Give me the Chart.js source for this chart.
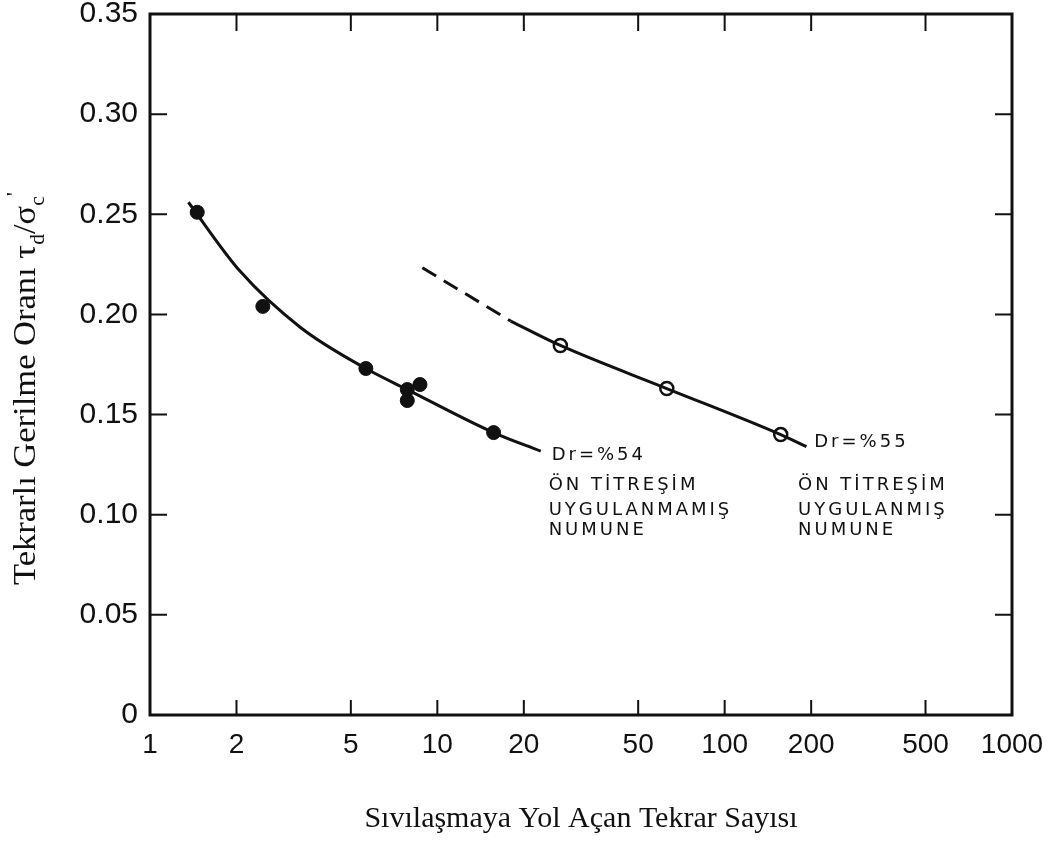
<!DOCTYPE html>
<html>
<head>
<meta charset="utf-8">
<script src="https://cdn.jsdelivr.net/npm/chart.js@4.4.1/dist/chart.umd.min.js"></script>
<style>
  html, body { margin: 0; padding: 0; background: #fff; }
  #wrap { width: 1062px; height: 843px; }
</style>
</head>
<body>
<div id="wrap"><canvas id="chart" width="1062" height="843"></canvas></div>
<script>
// axis ticks
const xTicks = [1, 2, 5, 10, 20, 50, 100, 200, 500, 1000];
const yTicks = [0, 0.05, 0.10, 0.15, 0.20, 0.25, 0.30, 0.35];

// measured points, no pre-vibration (filled)
const solidN = [1.46, 2.47, 5.64, 7.86, 8.70, 7.86, 15.7];
const solidRatio = [0.251, 0.204, 0.173, 0.1625, 0.165, 0.157, 0.141];

// measured points, with pre-vibration (open)
const hollowN = [26.8, 62.9, 156.7];
const hollowRatio = [0.1845, 0.163, 0.140];

// fitted curves
const curveNoPreN = [1.36, 2.06, 3.34, 5.64, 7.86, 15.7, 22.9];
const curveNoPreRatio = [0.256, 0.2215, 0.1935, 0.173, 0.1625, 0.141, 0.1317];
const curvePreDashN = [8.87, 18.0];
const curvePreDashRatio = [0.2233, 0.1967];
const curvePreN = [18.0, 26.8, 62.9, 156.7, 192.6];
const curvePreRatio = [0.1967, 0.1845, 0.163, 0.140, 0.134];

// texts
const xTitle = 'Sıvılaşmaya Yol Açan Tekrar Sayısı';
const noteLeft = ['Dr=%54', 'ÖN TİTREŞİM', 'UYGULANMAMIŞ', 'NUMUNE'];
const noteRight = ['Dr=%55', 'ÖN TİTREŞİM', 'UYGULANMIŞ', 'NUMUNE'];

const toPts = (xs, ys) => xs.map((x, i) => ({ x: x, y: ys[i] }));

const ink = '#111';

// frame, inward ticks, y title with sub/superscripts, notes
const decorPlugin = {
  id: 'decor',
  afterDatasetsDraw(chart) {
    const ctx = chart.ctx;
    const { left, right, top, bottom } = chart.chartArea;
    const xs = chart.scales.x, ys = chart.scales.y;
    ctx.save();
    ctx.strokeStyle = ink;
    ctx.lineWidth = 3;
    ctx.strokeRect(left, top, right - left, bottom - top);

    ctx.lineWidth = 2;
    ctx.beginPath();
    xTicks.slice(1, -1).forEach(v => {
      const px = xs.getPixelForValue(v);
      ctx.moveTo(px, bottom); ctx.lineTo(px, bottom - 15);
      ctx.moveTo(px, top); ctx.lineTo(px, top + 17);
    });
    yTicks.slice(1, -1).forEach(v => {
      const py = ys.getPixelForValue(v);
      ctx.moveTo(left, py); ctx.lineTo(left + 17, py);
      ctx.moveTo(right, py); ctx.lineTo(right - 17, py);
    });
    ctx.stroke();

    // y axis title
    const parts = [
      { t: 'Tekrarlı Gerilme Oranı ', size: 32, dy: 0 },
      { t: 'τ', size: 32, dy: 0 },
      { t: 'd', size: 20, dy: 9 },
      { t: '/', size: 32, dy: 0 },
      { t: 'σ', size: 32, dy: 0 },
      { t: 'c', size: 20, dy: 9 },
      { t: '\'', size: 22, dy: -14 }
    ];
    let total = 0;
    parts.forEach(p => {
      ctx.font = p.size + 'px "Liberation Serif", "Times New Roman", serif';
      p.w = ctx.measureText(p.t).width;
      total += p.w;
    });
    ctx.translate(35, 585);
    ctx.rotate(-Math.PI / 2);
    ctx.scale(393 / total, 1);
    ctx.fillStyle = ink;
    ctx.textBaseline = 'alphabetic';
    let cx = 0;
    parts.forEach(p => {
      ctx.font = p.size + 'px "Liberation Serif", "Times New Roman", serif';
      ctx.fillText(p.t, cx, p.dy);
      cx += p.w;
    });
    ctx.restore();

    // curve notes
    ctx.save();
    ctx.fillStyle = ink;
    ctx.font = '18px "DejaVu Sans", sans-serif';
    ctx.textBaseline = 'middle';
    ctx.letterSpacing = '3px';
    const drawNote = (lines, xFirst, xRest, yVals) => {
      lines.forEach((s, i) => {
        const px = xs.getPixelForValue(i === 0 ? xFirst : xRest);
        const py = ys.getPixelForValue(yVals[i]);
        ctx.fillText(s, px, py);
      });
    };
    drawNote(noteLeft, 25.0, 24.4, [0.1295, 0.1145, 0.102, 0.092]);
    drawNote(noteRight, 205, 180, [0.136, 0.1145, 0.102, 0.092]);
    ctx.restore();
  }
};

const chart = new Chart(document.getElementById('chart'), {
  type: 'scatter',
  data: {
    datasets: [
      {
        data: toPts(curveNoPreN, curveNoPreRatio),
        showLine: true, cubicInterpolationMode: 'monotone',
        borderColor: ink, borderWidth: 3, pointRadius: 0
      },
      {
        data: toPts(curvePreDashN, curvePreDashRatio),
        showLine: true, borderColor: ink, borderWidth: 3,
        borderDash: [16, 9], pointRadius: 0
      },
      {
        data: toPts(curvePreN, curvePreRatio),
        showLine: true, cubicInterpolationMode: 'monotone',
        borderColor: ink, borderWidth: 3, pointRadius: 0
      },
      {
        data: toPts(solidN, solidRatio),
        pointRadius: 7, backgroundColor: ink, borderColor: ink, borderWidth: 1
      },
      {
        data: toPts(hollowN, hollowRatio),
        pointRadius: 6.5, backgroundColor: '#fff', borderColor: ink, borderWidth: 2.5
      },
      {
        data: toPts(hollowN, hollowRatio),
        pointRadius: 1.8, backgroundColor: ink, borderColor: ink, borderWidth: 0
      }
    ]
  },
  options: {
    responsive: false,
    animation: false,
    devicePixelRatio: 1,
    layout: { padding: { top: 14, right: 50, bottom: 0, left: 0 } },
    plugins: { legend: { display: false }, tooltip: { enabled: false } },
    scales: {
      x: {
        type: 'logarithmic',
        min: 1, max: 1000,
        grid: { display: false, drawTicks: false },
        border: { display: false },
        afterBuildTicks: s => { s.ticks = xTicks.map(v => ({ value: v })); },
        afterFit: s => { s.height = 128; },
        ticks: {
          color: ink, padding: 16, maxRotation: 0, autoSkip: false,
          font: { family: '"Liberation Sans", Arial, sans-serif', size: 28, lineHeight: 1 },
          callback: v => String(v)
        },
        title: {
          display: true, text: xTitle, color: ink,
          font: { family: '"Liberation Serif", "Times New Roman", serif', size: 30 },
          padding: { top: 0, bottom: 6 }
        }
      },
      y: {
        min: 0, max: 0.35,
        grid: { display: false, drawTicks: false },
        border: { display: false },
        afterBuildTicks: s => { s.ticks = yTicks.map(v => ({ value: v })); },
        afterFit: s => { s.width = 150; s.paddingTop = 0; s.paddingBottom = 0; },
        ticks: {
          color: ink, padding: 12,
          font: { family: '"Liberation Sans", Arial, sans-serif', size: 30, lineHeight: 0.9 },
          callback: v => v === 0 ? '0' : v.toFixed(2)
        }
      }
    }
  },
  plugins: [decorPlugin]
});
</script>
</body>
</html>
